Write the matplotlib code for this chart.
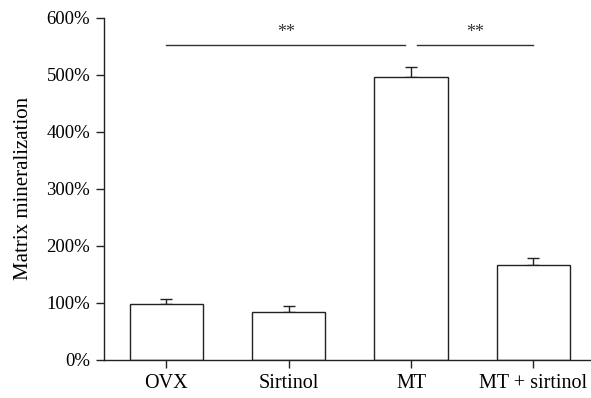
import matplotlib
matplotlib.use("Agg")
import matplotlib.pyplot as plt
from matplotlib.ticker import FuncFormatter

# Data
groups = ["OVX", "Sirtinol", "MT", "MT + sirtinol"]
means = [98, 84, 496, 167]
errors = [9, 11, 18, 12]

# significance brackets: (start group, end group, height %, label)
sig_pairs = [(0, 2, 553, "**"), (2, 3, 553, "**")]

plt.rcParams["font.family"] = ["Liberation Serif", "DejaVu Serif"]
plt.rcParams["font.size"] = 13

fig = plt.figure(figsize=(5.91, 3.98), dpi=100)
ax = fig.add_axes([0.176, 0.0955, 0.824, 0.86])

x = list(range(len(groups)))
ax.bar(x, means, width=0.6, color="white", edgecolor="#222222", linewidth=1.0, zorder=2)
ax.errorbar(x, means, yerr=[[0] * len(errors), errors], fmt="none",
            ecolor="#222222", elinewidth=1.0, capsize=4, capthick=1.0, zorder=1)

# significance lines (gap between the two at MT)
ax.plot([0, 1.95], [sig_pairs[0][2]] * 2, color="#333333", lw=1.0)
ax.plot([2.05, 3], [sig_pairs[1][2]] * 2, color="#333333", lw=1.0)
ax.text(0.975, sig_pairs[0][2] + 6, sig_pairs[0][3], ha="center", va="bottom", fontsize=13, color="#333333")
ax.text(2.525, sig_pairs[1][2] + 6, sig_pairs[1][3], ha="center", va="bottom", fontsize=13, color="#333333")

ax.set_xlim(-0.51, 3.47)
ax.set_ylim(0, 600)
ax.set_yticks(range(0, 601, 100))
ax.yaxis.set_major_formatter(FuncFormatter(lambda v, p: f"{int(v)}%"))
ax.set_xticks(x)
ax.set_xticklabels(groups, fontsize=14.5)
ax.tick_params(axis="y", labelsize=13.5, length=6, width=1.0, color="#222222", pad=4)
ax.tick_params(axis="x", length=6, width=1.0, color="#222222", pad=4)
ax.set_ylabel("Matrix mineralization", fontsize=15)
ax.yaxis.set_label_coords(-0.145, 0.5)

for s in ["top", "right"]:
    ax.spines[s].set_visible(False)
for s in ["left", "bottom"]:
    ax.spines[s].set_linewidth(1.0)
    ax.spines[s].set_color("#222222")

fig.savefig("out.png", dpi=100)
